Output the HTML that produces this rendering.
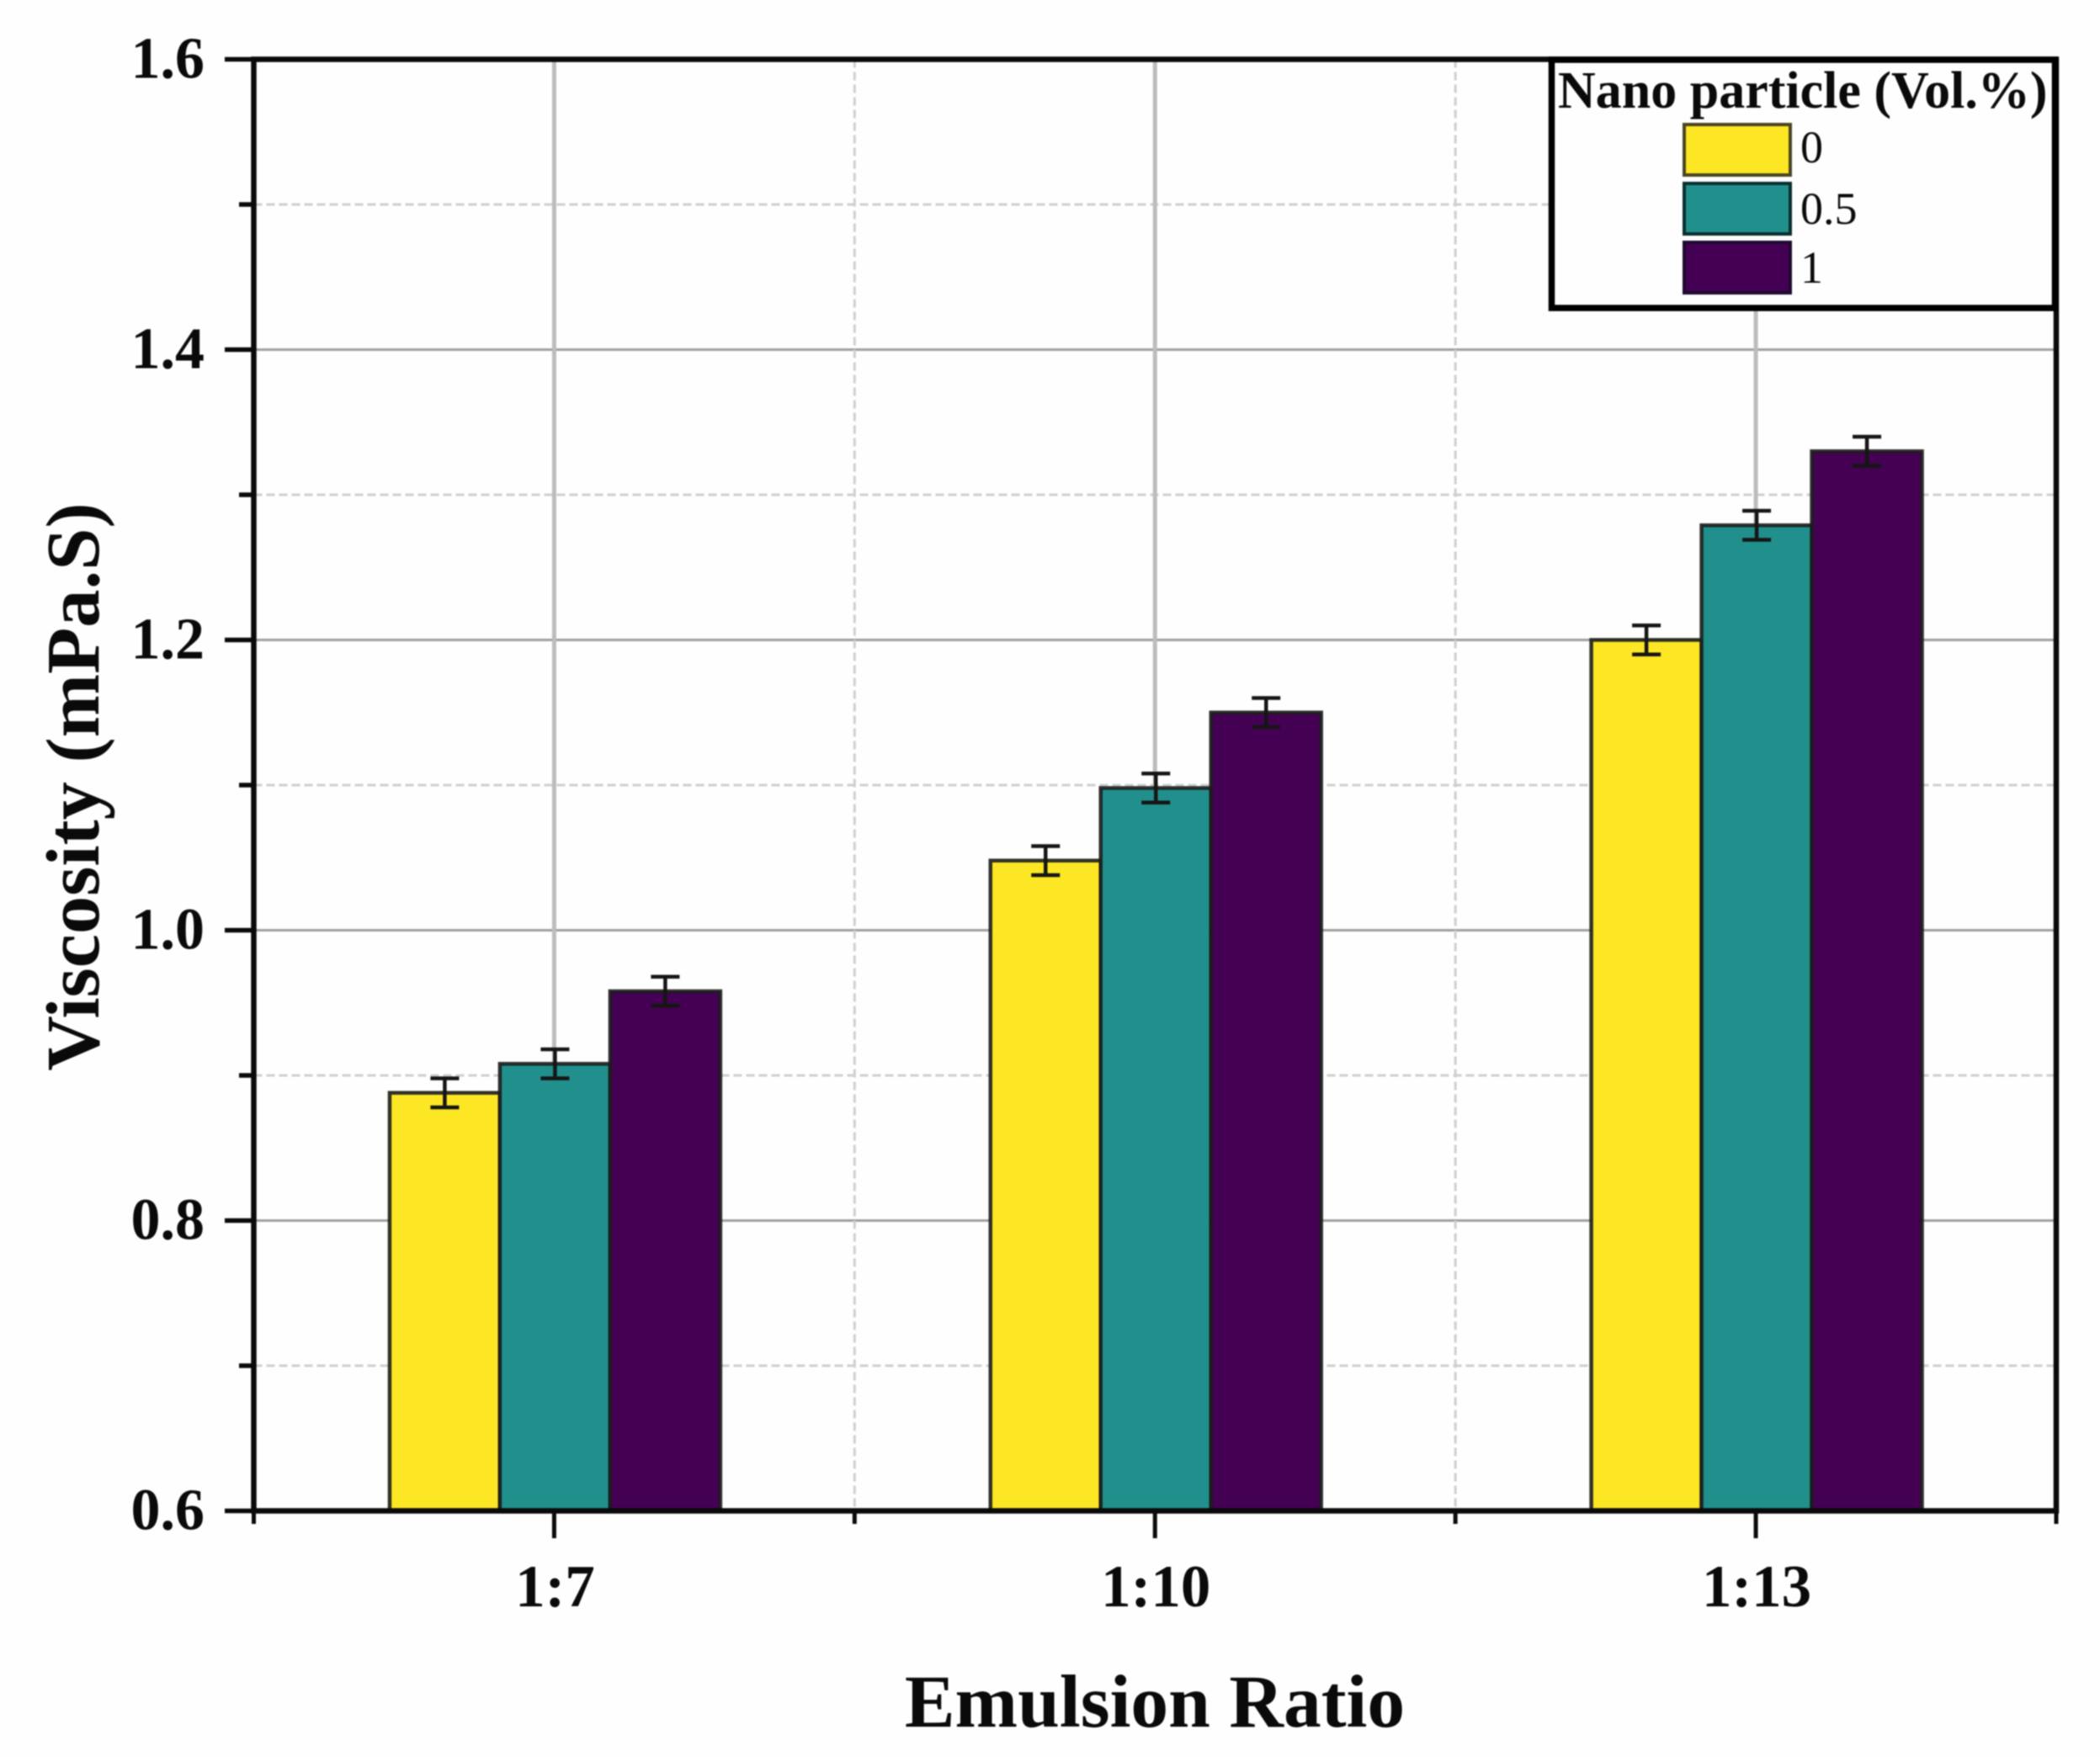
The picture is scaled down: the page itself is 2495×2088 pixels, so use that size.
<!DOCTYPE html>
<html lang="en">
<head>
<meta charset="utf-8">
<title>Viscosity vs Emulsion Ratio</title>
<style>
html,body{margin:0;padding:0;background:#fff;}
svg{display:block;filter:blur(0.7px);}
text{font-family:"Liberation Serif",serif;fill:#0a0a0a;}
.bold{font-weight:bold;}
</style>
</head>
<body>
<svg id="chart" xmlns="http://www.w3.org/2000/svg" width="2495" height="2088" viewBox="0 0 2495 2088">
  <rect x="-5" y="-5" width="2505" height="2098" fill="#fefefe"/>
  <g id="grid"></g>
  <g id="bars"></g>
  <g id="errors"></g>
  <g id="axes"></g>
  <text class="bold" x="1372" y="2052" font-size="89.5" text-anchor="middle">Emulsion Ratio</text>
  <text class="bold" x="0" y="0" font-size="90.5" text-anchor="middle" transform="translate(117 935) rotate(-90)">Viscosity (mPa.S)</text>
  <g>
    <rect x="1843.5" y="71" width="598" height="295" fill="#fefefe" stroke="#000" stroke-width="7.5"/>
    <text class="bold" x="1851" y="128" font-size="62">Nano particle (Vol.%)</text>
    <rect x="2001" y="148" width="126" height="60" fill="#fde725" stroke="#4a4520" stroke-width="4"/>
    <text x="2139" y="193" font-size="54" fill="#222">0</text>
    <rect x="2001" y="218" width="126" height="60" fill="#21908c" stroke="#0a2e30" stroke-width="4"/>
    <text x="2139" y="266" font-size="54" fill="#222">0.5</text>
    <rect x="2001" y="288" width="126" height="60" fill="#440154" stroke="#200a30" stroke-width="4"/>
    <text x="2139" y="336" font-size="54" fill="#222">1</text>
  </g>
</svg>
<script>
const categories = ["1:7", "1:10", "1:13"];
const seriesNames = ["0", "0.5", "1"];
const seriesColors = ["#fde725", "#21908c", "#440154"];
const series0 = [0.888, 1.048, 1.2];
const series05 = [0.908, 1.098, 1.279];
const series1 = [0.958, 1.15, 1.33];
const errors0 = [0.01, 0.01, 0.01];
const errors05 = [0.01, 0.01, 0.01];
const errors1 = [0.01, 0.01, 0.01];
const yMajorTicks = [0.6, 0.8, 1.0, 1.2, 1.4, 1.6];
const yMinorTicks = [0.7, 0.9, 1.1, 1.3, 1.5];
const yTickLabels = ["0.6", "0.8", "1.0", "1.2", "1.4", "1.6"];

const allSeries = [series0, series05, series1];
const allErrors = [errors0, errors05, errors1];

const NS = "http://www.w3.org/2000/svg";
const plotLeft = 301.5, plotRight = 2443, plotTop = 70.5, plotBottom = 1795.5;
const yMin = 0.6, yMax = 1.6;
const xMin = 0.5, xMax = categories.length + 0.5;
function xScale(v) { return plotLeft + (v - xMin) / (xMax - xMin) * (plotRight - plotLeft); }
function yScale(v) { return plotBottom - (v - yMin) / (yMax - yMin) * (plotBottom - plotTop); }
const barWidth = (xScale(1) - xScale(0)) * 0.1835;

function make(tag, parent, props) {
  const node = document.createElementNS(NS, tag);
  for (const k in props) node.setAttribute(k, props[k]);
  parent.appendChild(node);
  return node;
}
const grid = document.getElementById("grid");
const bars = document.getElementById("bars");
const errs = document.getElementById("errors");
const axes = document.getElementById("axes");

// gridlines
yMinorTicks.forEach(function (t) {
  const l = make("line", grid, {x1: plotLeft, x2: plotRight, y1: yScale(t), y2: yScale(t), stroke: "#cfcfcf", "stroke-width": 3, "stroke-dasharray": "10 5"});
  
  
});
yMajorTicks.slice(1, -1).forEach(function (t) {
  const l = make("line", grid, {x1: plotLeft, x2: plotRight, y1: yScale(t), y2: yScale(t), stroke: "#a0a0a0", "stroke-width": 3});
  
  
});
categories.forEach(function (c, i) {
  const l = make("line", grid, {x1: xScale(i + 1), x2: xScale(i + 1), y1: plotTop, y2: plotBottom, stroke: "#bcbcbc", "stroke-width": 5});
  
  
  if (i < categories.length - 1) {
    const m = make("line", grid, {x1: xScale(i + 1.5), x2: xScale(i + 1.5), y1: plotTop, y2: plotBottom, stroke: "#cfcfcf", "stroke-width": 3, "stroke-dasharray": "10 5"});
    
    
  }
});

// bars and error bars
const capHalf = 17;
allSeries.forEach(function (values, s) {
  values.forEach(function (v, i) {
    const cx = xScale(i + 1) + (s - 1) * barWidth + 1;
    const top = yScale(v);
    const r = make("rect", bars, {x: cx - barWidth / 2, y: top, width: barWidth, height: plotBottom - top, fill: seriesColors[s], stroke: "#1c1c1c", "stroke-opacity": 0.9, "stroke-width": 4.5});
    
    

    const hi = yScale(v + allErrors[s][i]);
    const lo = yScale(v - allErrors[s][i]);
    const g = make("g", errs, {stroke: "#151515", "stroke-width": 4.5, fill: "none"});
    
    
    make("line", g, {x1: cx, x2: cx, y1: hi, y2: lo});
    make("line", g, {x1: cx - capHalf, x2: cx + capHalf, y1: hi, y2: hi});
    make("line", g, {x1: cx - capHalf, x2: cx + capHalf, y1: lo, y2: lo});
  });
});

// axes frame
const frame = make("rect", axes, {x: plotLeft, y: plotTop, width: plotRight - plotLeft, height: plotBottom - plotTop, fill: "none", stroke: "#0a0a0a", "stroke-width": 6.5});



// y ticks and labels
yMajorTicks.forEach(function (t, i) {
  const l = make("line", axes, {x1: 267, x2: plotLeft, y1: yScale(t), y2: yScale(t), stroke: "#0a0a0a", "stroke-width": 5.5});
  
  
  const label = make("text", axes, {x: 243, y: yScale(t) + 22, "font-size": 70, "text-anchor": "end", "font-weight": "bold"});
  label.textContent = yTickLabels[i];
  
  
});
yMinorTicks.forEach(function (t) {
  const l = make("line", axes, {x1: 284, x2: plotLeft, y1: yScale(t), y2: yScale(t), stroke: "#0a0a0a", "stroke-width": 5.5});
  
  
});

// x ticks and labels
categories.forEach(function (c, i) {
  const x = xScale(i + 1);
  const l = make("line", axes, {x1: x, x2: x, y1: plotBottom, y2: 1828, stroke: "#0a0a0a", "stroke-width": 5});
  
  
  const label = make("text", axes, {x: x + 1, y: 1909, "font-size": 71, "text-anchor": "middle", "font-weight": "bold"});
  label.textContent = c;
  
  
});
for (let k = 0; k <= categories.length; k++) {
  const x = xScale(k + 0.5);
  const m = make("line", axes, {x1: x, x2: x, y1: plotBottom, y2: 1811, stroke: "#0a0a0a", "stroke-width": 5});
  
  
}
</script>
</body>
</html>
